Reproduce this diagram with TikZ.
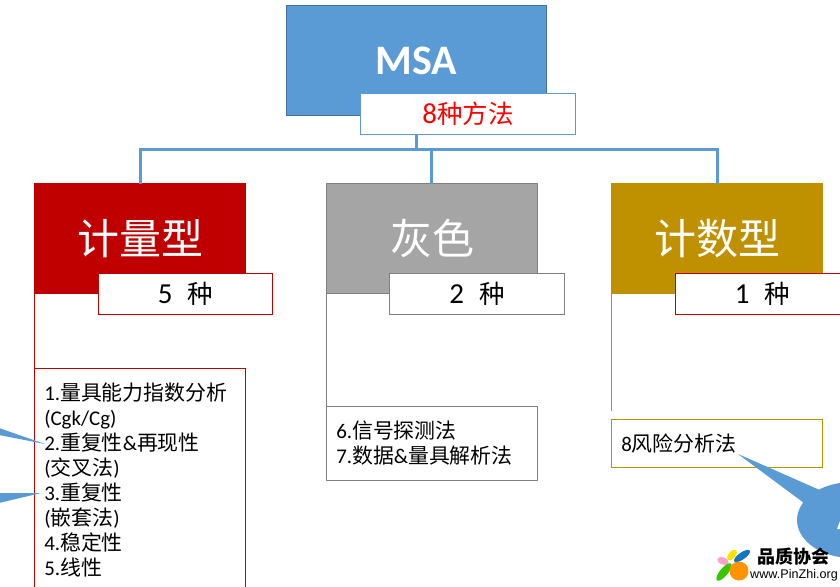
\documentclass[tikz,border=0pt]{standalone}
\usepackage{fontspec}
\setmainfont{Carlito}
\newfontfamily\cjk{Noto Sans CJK SC}
\newfontfamily\logofont{Liberation Sans}
\newcommand{\zh}[1]{{\cjk #1}}
\newcommand{\kinds}[2]{{\fontsize{29}{30}\selectfont #1}\hspace{#2}\zh{种}}
\definecolor{msablue}{HTML}{5B9BD5}
\definecolor{msaedge}{HTML}{41719C}
\definecolor{varred}{HTML}{C00000}
\definecolor{midgray}{HTML}{A5A5A5}
\definecolor{grayedge}{HTML}{7F7F7F}
\definecolor{attrgold}{HTML}{BF9000}

\begin{document}
\begin{tikzpicture}[x=1pt,y=-1pt,
 h/.style={minimum width=211pt,minimum height=110pt,inner sep=0pt,outer sep=0pt,text=white,font=\fontsize{42}{46}\selectfont},
 n/.style={fill=white,minimum height=41pt,inner sep=0pt,outer sep=0pt,font=\fontsize{25.5}{30}\selectfont},
 l/.style={anchor=north west,fill=white,minimum width=211pt,text width=191.5pt,inner xsep=9.75pt,outer sep=0pt,align=left,font=\fontsize{20.9}{25.1}\selectfont},
 t/.style={draw=msablue,line width=3pt},
 e/.style={line width=.9pt}]
 \useasboundingbox (0,0) rectangle (840,586);
 \clip (0,0) rectangle (840,586);
 \node[h,fill=msablue,draw=msaedge,line width=.9pt,minimum width=260pt] (msa) at (416.5,60.5) {\bfseries MSA};
 \node[h,fill=varred,draw=varred] (var) at (140,238.5) {\raisebox{2pt}{\zh{计量型}}};
 \node[h,fill=midgray,draw=grayedge,line width=.9pt] (gray) at (432,238.5) {\raisebox{2pt}{\zh{灰色}}};
 \node[h,fill=attrgold,draw=attrgold] (attr) at (717,238.5) {\raisebox{2pt}{\zh{计数型}}};
 \coordinate (bus) at (431.3,149.5);
 \draw[t] (msa.south) -- (msa.south |- bus);
 \draw[t] (var.north) |- (bus) -| (attr.north);
 \draw[t] (bus) -- (bus |- gray.north);
 \node[n,draw=msablue,minimum width=215pt,text=red] (total) at (468,114) {{\fontsize{29}{30}\selectfont 8}\zh{种方法}};
 \node[n,draw=varred,minimum width=174pt] (varn) at (185.5,293.5) {\kinds{5}{15pt}};
 \node[n,draw=grayedge,minimum width=175pt] (grayn) at (477,293.5) {\kinds{2}{15pt}};
 \node[n,draw=varred,minimum width=174pt] (attrn) at (762.5,293.5) {\kinds{1}{15pt}};
 \node[l,draw=varred,inner ysep=14pt] (varl) at (34.5,368.5) {1.\zh{量具能力指数分析}\\(Cgk/Cg)\\2.\zh{重复性}\&\zh{再现性}\\(\zh{交叉法})\\3.\zh{重复性}\\(\zh{嵌套法})\\4.\zh{稳定性}\\5.\zh{线性}};
 \node[l,draw=grayedge,minimum height=74pt] (grayl) at (326.5,406.5) {6.\zh{信号探测法}\\7.\zh{数据}\&\zh{量具解析法}};
 \node[l,draw=attrgold,minimum height=48pt] (attrl) at (611.5,419.5) {8\zh{风险分析法}};
 \coordinate (attrend) at (611.5,411);
 \draw[e,draw=varred] (var.south west) -- (varl.north west);
 \draw[e,draw=grayedge] (gray.south west) -- (grayl.north west);
 \draw[e,draw=attrgold] (attr.south west) -- (attrend);
 \fill[msablue] (-1,428) -- (45,444) -- (-1,435) -- cycle;
 \fill[msablue] (-1,493) -- (41,493) -- (-1,503) -- cycle;
 \fill[msablue] (852,520) ellipse [x radius=55,y radius=38];
 \fill[msablue] (738,454) -- (822,491) -- (804,503) -- cycle;
 \fill[white] (840,521) -- (837,529) -- (840,529) -- cycle;
 \fill[pink!85!magenta] (723,561) ellipse [x radius=6,y radius=3.5,rotate=-20];
 \fill[yellow!85!orange] (732,555) ellipse [x radius=6.5,y radius=3.5,rotate=50];
 \fill[cyan!55!blue] (742,556) ellipse [x radius=9.5,y radius=3.5,rotate=35];
 \fill[green!55!olive] (724,572) ellipse [x radius=11,y radius=4,rotate=50];
 \fill[orange!85!yellow] (739,571) circle [radius=9.5];
 \node[inner sep=0pt,font=\fontsize{18}{20}\selectfont\bfseries] (logot) at (793,557) {\zh{品质协会}};
 \node[inner sep=0pt,font=\logofont\fontsize{12.6}{15}\selectfont] (logou) at (794,575) {www.PinZhi.org};
\end{tikzpicture}
\end{document}
